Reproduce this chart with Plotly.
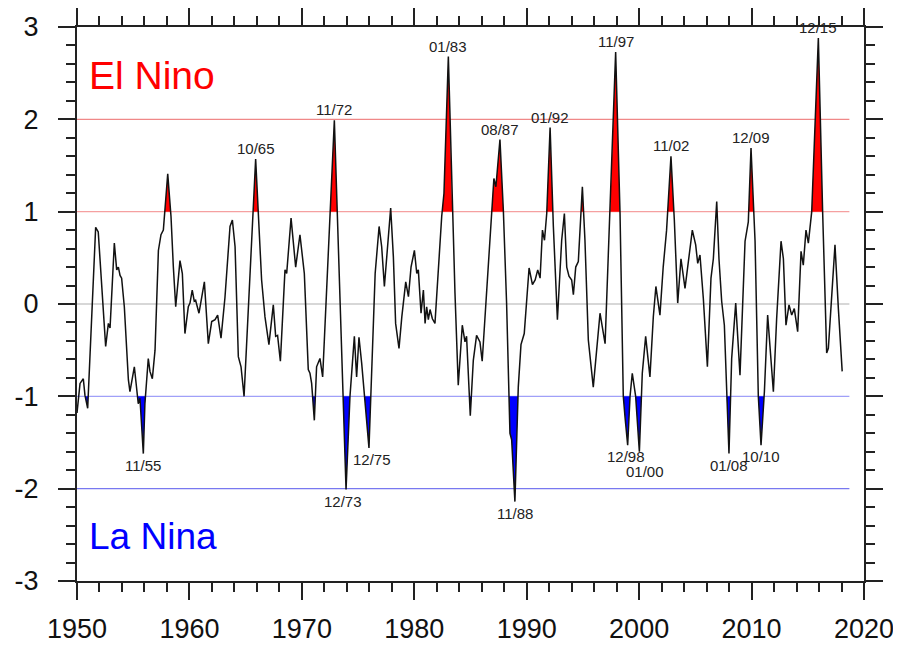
import plotly.graph_objects as go

# ---- data (decimal year, index value) ----
years = [
    1950.00, 1950.27, 1950.56, 1950.71, 1950.95, 1951.66, 1951.89, 1952.13, 1952.55, 1952.79,
    1952.94, 1953.32, 1953.53, 1953.68, 1953.83, 1953.97, 1954.21, 1954.57, 1954.71, 1955.10,
    1955.45, 1955.60, 1955.90, 1956.04, 1956.34, 1956.49, 1956.70, 1956.94, 1957.24, 1957.47,
    1957.68, 1958.07, 1958.36, 1958.57, 1958.78, 1959.16, 1959.37, 1959.60, 1959.90, 1960.05,
    1960.25, 1960.43, 1960.55, 1960.85, 1961.33, 1961.68, 1961.98, 1962.28, 1962.51, 1962.81,
    1963.16, 1963.61, 1963.82, 1964.06, 1964.35, 1964.59, 1964.86, 1965.89, 1966.42, 1966.72,
    1967.07, 1967.46, 1967.67, 1967.84, 1968.09, 1968.50, 1968.65, 1969.04, 1969.45, 1969.83,
    1970.22, 1970.57, 1970.72, 1970.87, 1971.11, 1971.31, 1971.61, 1971.85, 1972.89, 1973.93,
    1974.28, 1974.67, 1974.87, 1975.08, 1975.32, 1975.97, 1976.52, 1976.87, 1977.10, 1977.34,
    1977.55, 1977.90, 1978.14, 1978.34, 1978.64, 1978.89, 1979.24, 1979.48, 1979.71, 1980.01,
    1980.22, 1980.36, 1980.60, 1980.81, 1980.96, 1981.10, 1981.25, 1981.40, 1981.61, 1981.84,
    1982.44, 1982.64, 1983.03, 1983.38, 1983.62, 1983.91, 1984.27, 1984.51, 1984.65, 1984.98,
    1985.25, 1985.54, 1985.84, 1986.04, 1986.87, 1987.08, 1987.26, 1987.62, 1987.92, 1988.21,
    1988.51, 1988.66, 1988.95, 1989.25, 1989.49, 1989.78, 1990.21, 1990.51, 1990.75, 1990.98,
    1991.19, 1991.40, 1991.58, 1991.78, 1992.08, 1992.37, 1992.73, 1993.11, 1993.35, 1993.56,
    1993.76, 1994.00, 1994.15, 1994.36, 1994.59, 1994.95, 1995.18, 1995.48, 1995.92, 1996.22,
    1996.52, 1996.97, 1997.41, 1997.91, 1998.30, 1998.59, 1998.74, 1998.98, 1999.19, 1999.39,
    1999.69, 2000.02, 2000.28, 2000.58, 2000.96, 2001.26, 2001.49, 2001.85, 2002.14, 2002.44,
    2002.83, 2003.13, 2003.43, 2003.72, 2004.08, 2004.73, 2005.03, 2005.21, 2005.41, 2005.71,
    2006.07, 2006.39, 2006.60, 2006.90, 2007.10, 2007.34, 2007.58, 2007.79, 2007.99, 2008.23,
    2008.59, 2008.97, 2009.42, 2009.71, 2009.95, 2010.31, 2010.60, 2010.84, 2011.14, 2011.43,
    2011.64, 2011.94, 2012.23, 2012.62, 2012.83, 2013.06, 2013.33, 2013.57, 2013.80, 2014.10,
    2014.40, 2014.60, 2014.84, 2015.05, 2015.35, 2015.94, 2016.32, 2016.68, 2016.83, 2017.42,
    2017.72, 2018.06,
]
index_values = [
    -1.18, -0.86, -0.81, -0.99, -1.13, 0.83, 0.78, 0.31, -0.46, -0.21,
    -0.26, 0.66, 0.37, 0.40, 0.31, 0.28, -0.03, -0.82, -0.95, -0.68,
    -1.08, -1.02, -1.62, -1.08, -0.59, -0.73, -0.81, -0.50, 0.58, 0.75,
    0.80, 1.41, 0.95, 0.40, -0.03, 0.47, 0.33, -0.32, -0.03, 0.01,
    0.15, 0.03, 0.04, -0.10, 0.24, -0.43, -0.19, -0.17, -0.12, -0.37,
    0.07, 0.84, 0.91, 0.62, -0.57, -0.68, -1.00, 1.57, 0.26, -0.14,
    -0.44, -0.01, -0.35, -0.34, -0.62, 0.37, 0.33, 0.93, 0.40, 0.75,
    0.33, -0.71, -0.75, -0.86, -1.26, -0.68, -0.59, -0.79, 1.99, -2.01,
    -1.00, -0.35, -0.79, -0.36, -0.64, -1.56, 0.33, 0.84, 0.62, 0.19,
    0.48, 1.04, 0.51, -0.21, -0.48, -0.14, 0.24, 0.08, 0.40, 0.58,
    0.33, 0.37, -0.10, 0.15, -0.21, -0.03, -0.17, -0.06, -0.16, -0.21,
    0.95, 1.20, 2.68, 0.98, 0.12, -0.88, -0.23, -0.41, -0.35, -1.21,
    -0.61, -0.34, -0.41, -0.62, 0.98, 1.36, 1.27, 1.78, 1.02, 0.01,
    -1.40, -1.47, -2.14, -0.90, -0.44, -0.32, 0.39, 0.21, 0.26, 0.37,
    0.28, 0.80, 0.69, 0.98, 1.91, 0.84, -0.17, 0.69, 0.98, 0.40,
    0.30, 0.26, 0.10, 0.40, 0.46, 1.27, 0.69, -0.39, -0.90, -0.50,
    -0.10, -0.43, 0.98, 2.73, 0.98, -1.00, -1.22, -1.53, -1.00, -0.75,
    -1.00, -1.60, -0.75, -0.35, -0.79, -0.14, 0.19, -0.12, 0.40, 0.80,
    1.60, 0.91, 0.01, 0.49, 0.17, 0.80, 0.64, 0.44, 0.53, 0.06,
    -0.68, 0.28, 0.49, 1.11, 0.49, 0.03, -0.23, -1.00, -1.62, -0.59,
    0.01, -0.77, 0.68, 0.89, 1.69, 0.68, -1.00, -1.53, -0.95, -0.12,
    -0.48, -0.95, -0.16, 0.68, 0.49, -0.23, -0.01, -0.12, -0.05, -0.30,
    0.57, 0.42, 0.80, 0.66, 1.00, 2.88, 1.00, -0.53, -0.48, 0.64,
    -0.05, -0.73,
]

el_nino_labels = ["10/65", "11/72", "01/83", "08/87", "01/92", "11/97", "11/02", "12/09", "12/15"]
la_nina_labels = ["11/55", "12/73", "12/75", "11/88", "12/98", "01/00", "01/08", "10/10"]

x_tick_vals = [1950, 1960, 1970, 1980, 1990, 2000, 2010, 2020]
y_tick_vals = [-3, -2, -1, 0, 1, 2, 3]

THRESH = 1.0
LINE_END = 2018.7


def fill_polygons(t, v, thr, sign):
    """Polygons of the series beyond +thr (sign=1) or below -thr (sign=-1)."""
    w = [sign * a for a in v]
    pts = []
    for i in range(len(t)):
        if i > 0:
            a, b = w[i - 1] - thr, w[i] - thr
            if a * b < 0:
                tc = t[i - 1] + (t[i] - t[i - 1]) * a / (a - b)
                pts.append((tc, thr))
        pts.append((t[i], w[i]))
    xs, ys = [], []
    cur = []
    for (tt, ww) in pts + [(None, -1e9)]:
        if tt is not None and ww >= thr - 1e-9:
            cur.append((tt, ww))
        else:
            if any(p[1] > thr + 1e-9 for p in cur):
                xs += [p[0] for p in cur] + [None]
                ys += [sign * p[1] for p in cur] + [None]
            cur = []
    return xs, ys


def label_point(lbl, sign):
    mm, yy = lbl.split("/")
    yy = int(yy)
    yr = (1900 + yy) if yy > 30 else (2000 + yy)
    tdec = yr + (int(mm) - 1) / 12
    cands = [(sign * v, t, v) for t, v in zip(years, index_values) if abs(t - tdec) < 0.35]
    best = max(cands)
    return best[1], best[2]


fig = go.Figure()

# reference lines
for yv, col, w in [(0, "#b0b0b0", 1.2), (1, "#f5a0a0", 1.2), (2, "#f08888", 1.3),
                   (-1, "#a0a0f8", 1.2), (-2, "#7878f0", 1.4)]:
    fig.add_shape(type="line", xref="x", yref="y", x0=1950, x1=LINE_END, y0=yv, y1=yv,
                  line=dict(color=col, width=w), layer="below")

xr, yr_ = fill_polygons(years, index_values, THRESH, 1)
fig.add_trace(go.Scatter(x=xr, y=yr_, mode="lines", fill="toself", fillcolor="#ff0000",
                         line=dict(width=0, color="#ff0000"), hoverinfo="skip", showlegend=False))
xb, yb = fill_polygons(years, index_values, THRESH, -1)
fig.add_trace(go.Scatter(x=xb, y=yb, mode="lines", fill="toself", fillcolor="#0000ff",
                         line=dict(width=0, color="#0000ff"), hoverinfo="skip", showlegend=False))

fig.add_trace(go.Scatter(x=years, y=index_values, mode="lines",
                         line=dict(color="#111111", width=1.5), showlegend=False))

lab_font = dict(family="Liberation Sans, Arial, sans-serif", size=15, color="#222222")
for lbl in el_nino_labels:
    tx, vy = label_point(lbl, 1)
    fig.add_annotation(x=tx, y=vy, text=lbl, showarrow=False, xanchor="center",
                       yanchor="bottom", yshift=0, font=lab_font)

shifts = {"01/00": (6, -8), "12/98": (-2, 0), "12/75": (3, 0), "12/73": (-3, 0)}
for lbl in la_nina_labels:
    tx, vy = label_point(lbl, -1)
    dx, dy = shifts.get(lbl, (0, 0))
    fig.add_annotation(x=tx, y=vy, text=lbl, showarrow=False, xanchor="center",
                       yanchor="top", xshift=dx, yshift=dy - 1, font=lab_font)

fig.add_annotation(x=1950.85, y=2.48, text="El Nino", showarrow=False, xanchor="left",
                   yanchor="middle", font=dict(family="Liberation Sans, Arial, sans-serif",
                                               size=39, color="#ff0000"))
fig.add_annotation(x=1950.85, y=-2.52, text="La Nina", showarrow=False, xanchor="left",
                   yanchor="middle", font=dict(family="Liberation Sans, Arial, sans-serif",
                                               size=37, color="#0000ff"))

axis_common = dict(showgrid=False, zeroline=False, showline=True, linecolor="#222222",
                   linewidth=2, mirror="allticks", ticks="outside", ticklen=17,
                   tickwidth=2, tickcolor="#222222", automargin=False)

fig.update_xaxes(range=[1950, 2020], tickvals=x_tick_vals,
                 ticktext=[str(v) for v in x_tick_vals],
                 tickfont=dict(family="Liberation Sans, Arial, sans-serif", size=27, color="#111111"),
                 ticklabelstandoff=6,
                 minor=dict(dtick=2, ticks="outside", ticklen=9, tickwidth=1.5, tickcolor="#222222"),
                 **axis_common)
fig.update_yaxes(range=[-3, 3], tickvals=y_tick_vals,
                 ticktext=[str(v) for v in y_tick_vals],
                 tickfont=dict(family="Liberation Sans, Arial, sans-serif", size=27, color="#111111"),
                 ticklabelstandoff=14,
                 minor=dict(dtick=0.2, ticks="outside", ticklen=9, tickwidth=1.5, tickcolor="#222222"),
                 **axis_common)

# the page body adds an 8px offset, so margins are reduced accordingly
fig.update_layout(width=893, height=638, margin=dict(l=69, r=37, t=19, b=65),
                  paper_bgcolor="white", plot_bgcolor="white", showlegend=False)

fig.write_html("out.html")
